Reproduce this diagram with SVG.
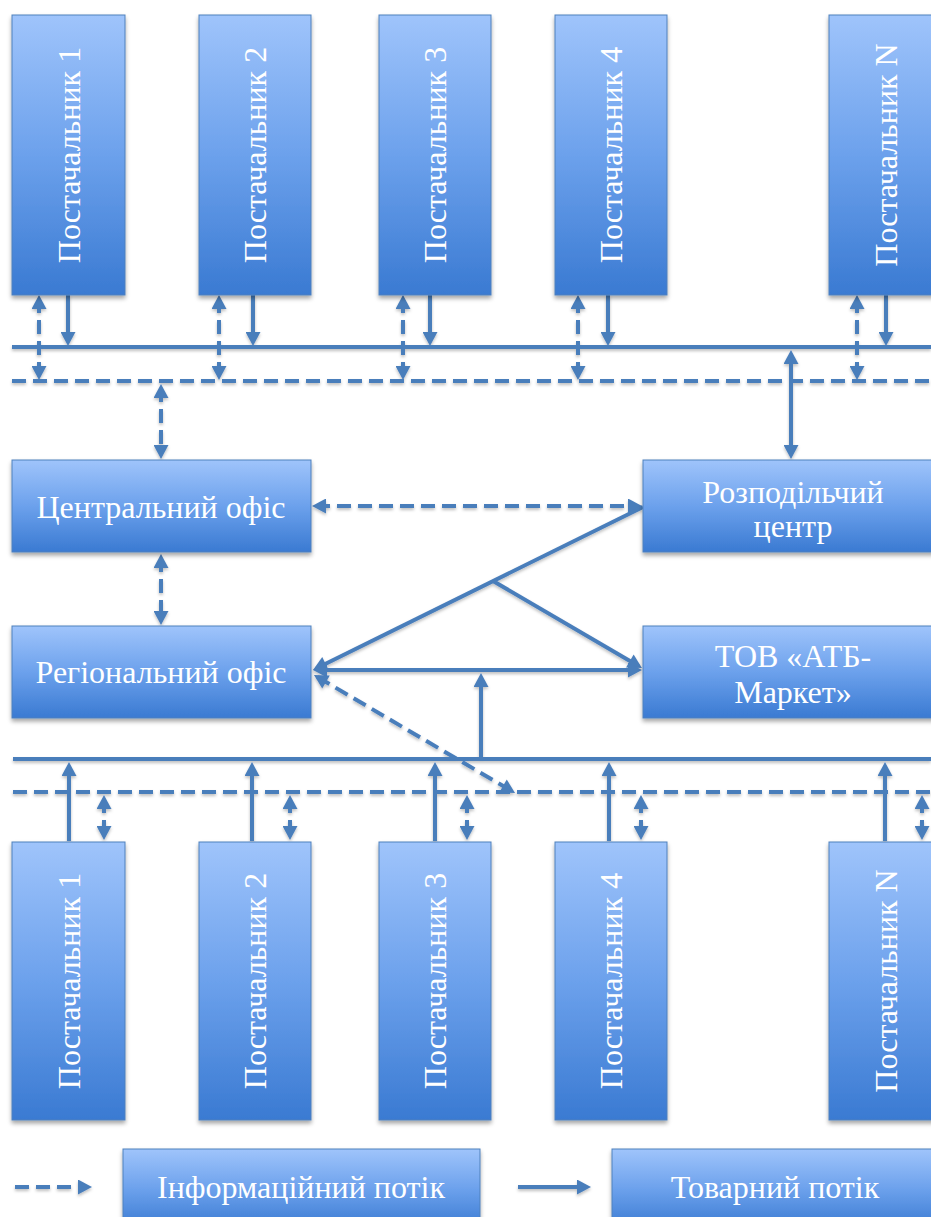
<svg xmlns="http://www.w3.org/2000/svg" width="931" height="1217" viewBox="0 0 931 1217">
<defs>
<linearGradient id="g" x1="0" y1="0" x2="0" y2="1">
<stop offset="0" stop-color="#9fc4fb"/>
<stop offset="0.5" stop-color="#6ca1ec"/>
<stop offset="1" stop-color="#3a7ad2"/>
</linearGradient>
<filter id="sh" x="-10%" y="-10%" width="120%" height="130%">
<feDropShadow dx="0" dy="3" stdDeviation="2" flood-color="#000" flood-opacity="0.35"/>
</filter>
<filter id="lsh" x="-5%" y="-50%" width="110%" height="200%">
<feDropShadow dx="0" dy="2" stdDeviation="1.5" flood-color="#000" flood-opacity="0.25"/>
</filter>
<marker id="ah" markerUnits="userSpaceOnUse" markerWidth="15" markerHeight="15" viewBox="0 0 14 15" refX="10" refY="7.5" orient="auto-start-reverse">
<path d="M0,0 L14,7.5 L0,15 z" fill="#4a7ebb"/>
</marker>
</defs>
<style>
.box{fill:url(#g);stroke:#4f81bd;stroke-width:1;filter:url(#sh)}
.t{font-family:"Liberation Serif","Times New Roman",serif;font-size:32px;fill:#fff;text-anchor:middle}
.s{stroke:#4a7ebb;stroke-width:4;fill:none}
.d{stroke:#4a7ebb;stroke-width:4;fill:none;stroke-dasharray:14 7}
.a{marker-end:url(#ah)}
.b{marker-start:url(#ah);marker-end:url(#ah)}
</style>
<rect width="931" height="1217" fill="#fff"/>

<g id="connectors" filter="url(#lsh)">
<!-- top buses -->
<line class="s" x1="12" y1="347" x2="931" y2="347"/>
<line class="d" x1="12" y1="381" x2="931" y2="381"/>
<!-- top suppliers -->
<line class="s a" x1="68" y1="295" x2="68" y2="342"/>
<line class="d b" x1="39" y1="299" x2="39" y2="376"/>
<line class="s a" x1="253" y1="295" x2="253" y2="342"/>
<line class="d b" x1="219" y1="299" x2="219" y2="376"/>
<line class="s a" x1="430" y1="295" x2="430" y2="342"/>
<line class="d b" x1="403" y1="299" x2="403" y2="376"/>
<line class="s a" x1="608" y1="295" x2="608" y2="342"/>
<line class="d b" x1="578" y1="299" x2="578" y2="376"/>
<line class="s a" x1="886" y1="295" x2="886" y2="342"/>
<line class="d b" x1="857" y1="299" x2="857" y2="376"/>
<!-- offices -->
<line class="d b" x1="161" y1="388" x2="161" y2="455"/>
<line class="s b" x1="791" y1="354" x2="791" y2="455"/>
<line class="d b" x1="161" y1="558" x2="161" y2="621"/>
<line class="d b" x1="316" y1="506" x2="638" y2="506"/>
<line class="s a" x1="643" y1="507" x2="316.6" y2="668.2"/>
<line class="s a" x1="493" y1="581" x2="638.5" y2="666"/>
<line class="s b" x1="317" y1="670" x2="638" y2="670"/>
<line class="s a" x1="481" y1="759" x2="481" y2="677"/>
<line class="d b" x1="317.4" y1="677" x2="511.6" y2="791"/>
<!-- bottom buses -->
<line class="s" x1="13" y1="759" x2="931" y2="759"/>
<line class="d" x1="13" y1="792" x2="931" y2="792"/>
<!-- bottom suppliers -->
<line class="s a" x1="69" y1="841" x2="69" y2="766"/>
<line class="d b" x1="104" y1="799" x2="104" y2="836"/>
<line class="s a" x1="252" y1="841" x2="252" y2="766"/>
<line class="d b" x1="290" y1="799" x2="290" y2="836"/>
<line class="s a" x1="435" y1="841" x2="435" y2="766"/>
<line class="d b" x1="467" y1="799" x2="467" y2="836"/>
<line class="s a" x1="609" y1="841" x2="609" y2="766"/>
<line class="d b" x1="641" y1="799" x2="641" y2="836"/>
<line class="s a" x1="885" y1="841" x2="885" y2="766"/>
<line class="d b" x1="922" y1="799" x2="922" y2="836"/>
<!-- legend arrows -->
<line class="d a" x1="15" y1="1187" x2="88" y2="1187"/>
<line class="s a" x1="518" y1="1187" x2="587" y2="1187"/>
</g>

<g id="sup-top-1"><rect class="box" x="12" y="15" width="113" height="280"/><text class="t" transform="translate(80,155) rotate(-90)">Постачальник 1</text></g>
<g id="sup-top-2"><rect class="box" x="199" y="15" width="112" height="280"/><text class="t" transform="translate(266,155) rotate(-90)">Постачальник 2</text></g>
<g id="sup-top-3"><rect class="box" x="379" y="15" width="112" height="280"/><text class="t" transform="translate(446,155) rotate(-90)">Постачальник 3</text></g>
<g id="sup-top-4"><rect class="box" x="555" y="15" width="112" height="280"/><text class="t" transform="translate(622,155) rotate(-90)">Постачальник 4</text></g>
<g id="sup-top-n"><rect class="box" x="829" y="15" width="113" height="280"/><text class="t" transform="translate(897,155) rotate(-90)">Постачальник N</text></g>

<g id="central"><rect class="box" x="12" y="460" width="299" height="92"/><text class="t" x="161" y="518">Центральний офіс</text></g>
<g id="distribution"><rect class="box" x="643" y="460" width="300" height="92"/><text class="t" x="793" y="503">Розподільчий</text><text class="t" x="793" y="537">центр</text></g>
<g id="regional"><rect class="box" x="12" y="626" width="299" height="92"/><text class="t" x="161" y="683">Регіональний офіс</text></g>
<g id="atb"><rect class="box" x="643" y="626" width="300" height="92"/><text class="t" x="793" y="667">ТОВ «АТБ-</text><text class="t" x="793" y="703">Маркет»</text></g>

<g id="sup-bot-1"><rect class="box" x="12" y="842" width="113" height="278"/><text class="t" transform="translate(80,981) rotate(-90)">Постачальник 1</text></g>
<g id="sup-bot-2"><rect class="box" x="199" y="842" width="112" height="278"/><text class="t" transform="translate(266,981) rotate(-90)">Постачальник 2</text></g>
<g id="sup-bot-3"><rect class="box" x="379" y="842" width="112" height="278"/><text class="t" transform="translate(446,981) rotate(-90)">Постачальник 3</text></g>
<g id="sup-bot-4"><rect class="box" x="555" y="842" width="112" height="278"/><text class="t" transform="translate(622,981) rotate(-90)">Постачальник 4</text></g>
<g id="sup-bot-n"><rect class="box" x="829" y="842" width="113" height="278"/><text class="t" transform="translate(897,981) rotate(-90)">Постачальник N</text></g>

<g id="legend-info"><rect class="box" x="123" y="1149" width="357" height="80"/><text class="t" x="301" y="1198">Інформаційний потік</text></g>
<g id="legend-goods"><rect class="box" x="612" y="1149" width="330" height="80"/><text class="t" x="775" y="1198">Товарний потік</text></g>
</svg>
